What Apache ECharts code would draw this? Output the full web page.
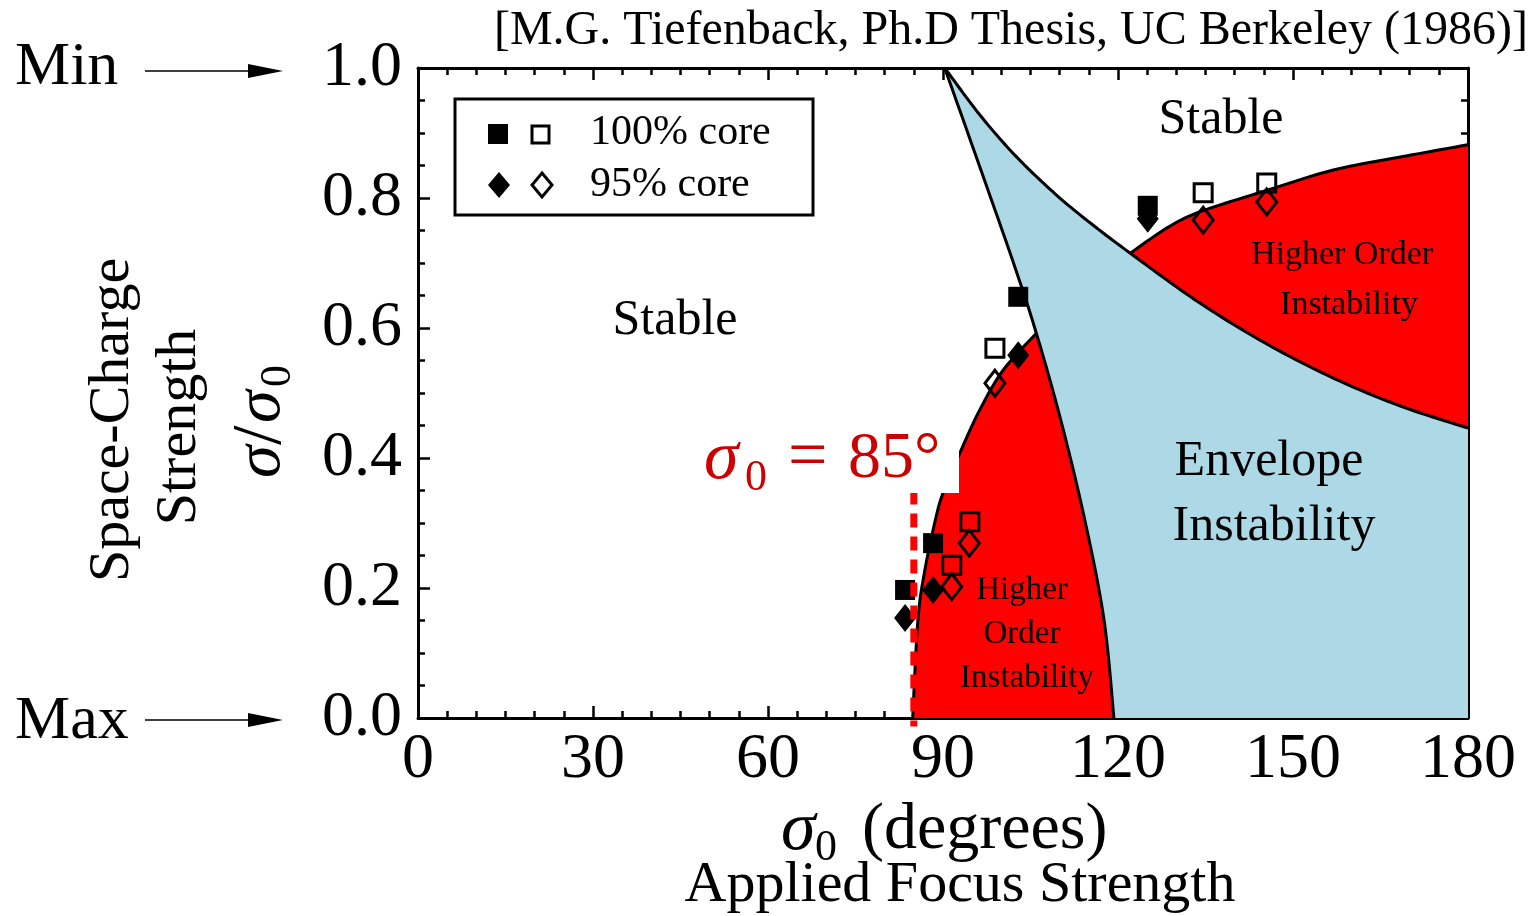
<!DOCTYPE html>
<html>
<head>
<meta charset="utf-8">
<script src="https://cdn.jsdelivr.net/npm/echarts@6/dist/echarts.min.js"></script>
<style>
html, body { margin: 0; padding: 0; background: #fff; }
#host { width: 1533px; height: 916px; }
</style>
</head>
<body>
<div id="host"></div>
<script>
// stability boundaries, [sigma0 (deg), sigma/sigma0]
const envLeft = [[90.3, 1.0], [96.5, 0.843], [102.2, 0.697], [106.0, 0.592], [110.2, 0.458],
  [114.3, 0.305], [117.6, 0.151], [119.3, 0]];
const envTop = [[90.3, 1.0], [96.3, 0.928], [102.0, 0.869], [107.8, 0.818], [113.5, 0.774],
  [122.1, 0.715], [134.1, 0.638], [145.6, 0.575], [156.9, 0.523], [168.4, 0.48], [180, 0.446]];
const redTop = [[122.1, 0.715], [128.4, 0.754], [134.1, 0.779], [145.6, 0.812], [156.9, 0.843],
  [168.4, 0.863], [180, 0.882]];
const redLeft = [[84.8, 0], [85.7, 0.151], [86.9, 0.228], [88.7, 0.305], [90.0, 0.346],
  [92.9, 0.408], [96.3, 0.474], [100.3, 0.535], [106.0, 0.592]];

// measurements
const fullSquare = [[83.5, 0.197], [88.3, 0.269], [102.9, 0.648], [125.1, 0.788]];
const openSquare = [[91.5, 0.235], [94.6, 0.302], [98.9, 0.569], [134.6, 0.808], [145.5, 0.823]];
const fullDiamond = [[83.5, 0.154], [88.3, 0.197], [102.9, 0.558], [125.1, 0.768]];
const openDiamond = [[91.5, 0.202], [94.5, 0.269], [98.9, 0.515], [134.6, 0.766], [145.5, 0.794]];

const cutoff = [[85, 0.35], [85, -0.013]];

const xTickLabels = ["0", "30", "60", "90", "120", "150", "180"];
const yTickLabels = ["0.0", "0.2", "0.4", "0.6", "0.8", "1.0"];

const SERIF = '"Liberation Serif", "Times New Roman", serif';

// catmull-rom through pixel points, so the boundaries come out as curves
function dense(pts) {
  const out = [pts[0]];
  for (let i = 0; i < pts.length - 1; i++) {
    const p0 = pts[Math.max(i - 1, 0)], p1 = pts[i], p2 = pts[i + 1];
    const p3 = pts[Math.min(i + 2, pts.length - 1)];
    for (let k = 1; k <= 12; k++) {
      const t = k / 12, t2 = t * t, t3 = t2 * t;
      out.push([0, 1].map((d) => 0.5 * (2 * p1[d] + (p2[d] - p0[d]) * t
        + (2 * p0[d] - 5 * p1[d] + 4 * p2[d] - p3[d]) * t2
        + (3 * p1[d] - p0[d] - 3 * p2[d] + p3[d]) * t3)));
    }
  }
  return out;
}

function renderZones(params, api) {
  const px = (arr) => dense(arr.map((p) => api.coord(p)));
  const L = px(envLeft), T = px(envTop), R = px(redTop), RL = px(redLeft);
  const cusp = api.coord(redTop[0]);
  const meet = api.coord(redLeft[redLeft.length - 1]);
  const blue = L.concat([api.coord([180, 0])], T.slice().reverse());
  const upper = R.concat(T.filter((p) => p[0] >= cusp[0]).reverse());
  const lower = RL.concat(L.filter((p) => p[1] > meet[1]));
  const fill = (pts, c) => ({ type: "polygon", shape: { points: pts }, style: { fill: c } });
  const stroke = (pts) => ({
    type: "polyline", shape: { points: pts },
    style: { fill: "none", stroke: "#000", lineWidth: 3 },
  });
  return {
    type: "group",
    children: [
      fill(blue, "#add8e6"), fill(upper, "#ff0000"), fill(lower, "#ff0000"),
      stroke(L), stroke(T), stroke(R), stroke(RL),
    ],
  };
}

function axisStyle(pos, showLabel) {
  return {
    type: "value",
    position: pos,
    axisLine: { show: true, onZero: false, lineStyle: { color: "#000", width: 3 } },
    axisTick: { show: true, inside: true, length: 12, lineStyle: { color: "#000", width: 2.5 } },
    minorTick: { show: true, length: 7, lineStyle: { color: "#000", width: 2.5 } },
    splitLine: { show: false },
    axisLabel: { show: showLabel, color: "#000", fontFamily: SERIF, fontSize: 64 },
  };
}

function txt(x, y, text, size, opts) {
  const o = opts || {};
  return {
    type: "text",
    x: x,
    y: y,
    z: 100,
    rotation: o.rotation || 0,
    style: {
      text: text,
      fill: o.color || "#000",
      fontFamily: SERIF,
      fontSize: size,
      fontStyle: o.italic ? "italic" : "normal",
      align: o.align || "center",
      textAlign: o.align || "center",
      verticalAlign: "middle",
      textVerticalAlign: "middle",
    },
  };
}

const xBottom = Object.assign(axisStyle("bottom", true), { min: 0, max: 180, interval: 30 });
xBottom.minorTick.splitNumber = 6;
xBottom.axisLabel.margin = 10;
xBottom.axisLabel.formatter = (v) => xTickLabels[Math.round(v / 30)];
const xTop = Object.assign(axisStyle("top", false), { min: 0, max: 180, interval: 30 });
xTop.minorTick.splitNumber = 6;

const yLeft = Object.assign(axisStyle("left", true), { min: 0, max: 1, interval: 0.2 });
yLeft.minorTick.splitNumber = 4;
yLeft.axisLabel.margin = 16;
yLeft.axisLabel.formatter = (v) => yTickLabels[Math.round(v / 0.2)];
const yRight = Object.assign(axisStyle("right", false), { min: 0, max: 1, interval: 0.2 });
yRight.minorTick.splitNumber = 4;

const chart = echarts.init(document.getElementById("host"));
chart.setOption({
  animation: false,
  backgroundColor: "#fff",
  grid: { left: 418, top: 68, width: 1050, height: 650 },
  xAxis: [xBottom, xTop],
  yAxis: [yLeft, yRight],
  series: [
    { type: "custom", silent: true, z: 1, data: [[0, 0]], renderItem: renderZones },
    {
      type: "scatter", data: fullSquare, symbol: "rect", symbolSize: 20, z: 4,
      itemStyle: { color: "#000", opacity: 1 },
    },
    {
      type: "scatter", data: fullDiamond, symbol: "diamond", symbolSize: [22, 28], z: 4,
      itemStyle: { color: "#000", opacity: 1 },
    },
    {
      type: "scatter", data: openSquare, symbol: "rect", symbolSize: 18, z: 4,
      itemStyle: { color: "rgba(0,0,0,0)", borderColor: "#000", borderWidth: 3, opacity: 1 },
    },
    {
      type: "scatter", data: openDiamond, symbol: "diamond", symbolSize: [20, 26], z: 4,
      itemStyle: { color: "rgba(0,0,0,0)", borderColor: "#000", borderWidth: 3, opacity: 1 },
    },
    {
      type: "line", data: cutoff, symbol: "none", clip: false, z: 5, silent: true,
      lineStyle: { color: "#ff0000", width: 7, type: [14, 9] },
    },
  ],
  graphic: [
    // legend box
    { type: "rect", z: 100, shape: { x: 455, y: 99, width: 358, height: 116 },
      style: { fill: "#fff", stroke: "#000", lineWidth: 3 } },
    { type: "rect", z: 101, shape: { x: 488, y: 124, width: 20, height: 20 }, style: { fill: "#000" } },
    { type: "rect", z: 101, shape: { x: 532, y: 126, width: 17, height: 17 },
      style: { fill: "none", stroke: "#000", lineWidth: 3 } },
    { type: "polygon", z: 101, shape: { points: [[499, 172], [510, 185], [499, 198], [488, 185]] },
      style: { fill: "#000" } },
    { type: "polygon", z: 101, shape: { points: [[542, 173], [552, 185], [542, 197], [532, 185]] },
      style: { fill: "none", stroke: "#000", lineWidth: 3 } },
    txt(590, 133, "100% core", 42, { align: "left" }),
    txt(590, 185, "95% core", 42, { align: "left" }),

    // sigma0 = 85 deg tag
    { type: "rect", z: 99, shape: { x: 696, y: 412, width: 263, height: 81 }, style: { fill: "#fff" } },
    txt(704, 460, "σ", 70, { align: "left", italic: true, color: "#cc0000" }),
    txt(745, 478, "0", 44, { align: "left", color: "#cc0000" }),
    txt(788, 460, "=", 70, { align: "left", color: "#cc0000" }),
    txt(848, 460, "85°", 66, { align: "left", color: "#cc0000" }),

    // region labels
    txt(675, 321, "Stable", 50),
    txt(1221, 120, "Stable", 50),
    txt(1342, 255, "Higher Order", 34),
    txt(1349, 305, "Instability", 34),
    txt(1269, 462, "Envelope", 50),
    txt(1274, 527, "Instability", 50),
    txt(1022, 590, "Higher", 33),
    txt(1022, 634, "Order", 33),
    txt(1027, 678, "Instability", 33),

    // citation
    txt(1528, 31, "[M.G. Tiefenback, Ph.D Thesis, UC Berkeley (1986)]", 48, { align: "right" }),

    // x axis title
    txt(781, 831, "σ", 70, { align: "left", italic: true }),
    txt(815, 848, "0", 44, { align: "left" }),
    txt(862, 831, "(degrees)", 66, { align: "left" }),
    txt(960, 886, "Applied Focus Strength", 58),

    // y axis titles
    txt(113, 420, "Space-Charge", 58, { rotation: Math.PI / 2 }),
    txt(180, 427, "Strength", 58, { rotation: Math.PI / 2 }),
    {
      type: "group", x: 262, y: 409, rotation: Math.PI / 2, z: 100,
      children: [
        txt(-69, 0, "σ", 66, { align: "left", italic: true }),
        txt(-36, 0, "/", 70, { align: "left" }),
        txt(-14, 0, "σ", 66, { align: "left", italic: true }),
        txt(22, 16, "0", 44, { align: "left" }),
      ],
    },

    // Min / Max arrows
    txt(15, 68, "Min", 62, { align: "left" }),
    txt(15, 722, "Max", 62, { align: "left" }),
    { type: "line", z: 100, shape: { x1: 145, y1: 71, x2: 252, y2: 71 }, style: { stroke: "#000", lineWidth: 1.5 } },
    { type: "polygon", z: 100, shape: { points: [[248, 64], [283, 71], [248, 78]] }, style: { fill: "#000" } },
    { type: "line", z: 100, shape: { x1: 145, y1: 720, x2: 252, y2: 720 }, style: { stroke: "#000", lineWidth: 1.5 } },
    { type: "polygon", z: 100, shape: { points: [[248, 713], [283, 720], [248, 727]] }, style: { fill: "#000" } },
  ],
});
</script>
</body>
</html>
